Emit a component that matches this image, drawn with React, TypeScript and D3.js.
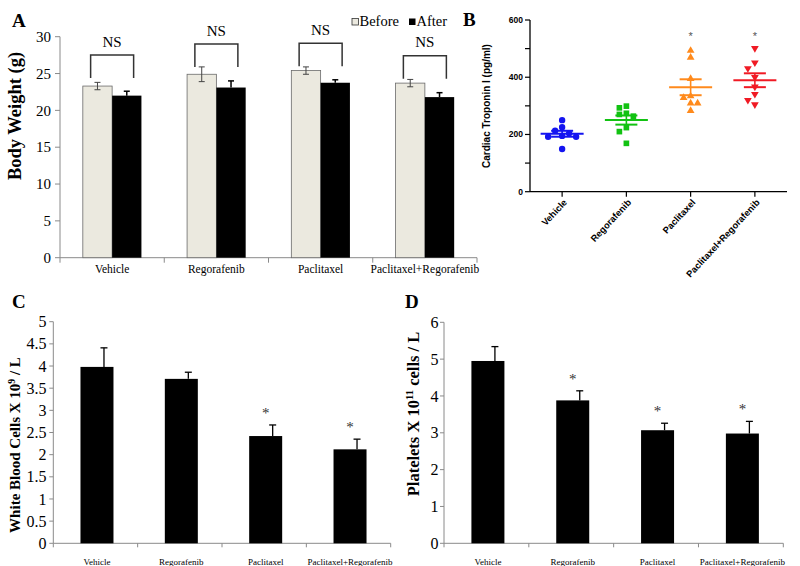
import React from "react";
import * as d3 from "d3";

const groups = ["Vehicle", "Regorafenib", "Paclitaxel", "Paclitaxel+Regorafenib"];

// A: body weight (g)
const weightBefore = [23.3, 24.9, 25.4, 23.7];
const weightBeforeErr = [0.5, 1.0, 0.5, 0.5];
const weightAfter = [22.0, 23.1, 23.75, 21.8];
const weightAfterErr = [0.6, 0.9, 0.4, 0.6];
const nsLevel = [27.5, 29.0, 29.1, 27.4];

// B: cardiac troponin I (pg/ml), individual animals
const vehicleTnI = [250, 225, 213, 204, 195, 192, 192, 149];
const regorafenibTnI = [299, 293, 274, 270, 264, 224, 210, 169];
const paclitaxelTnI = [493, 469, 395, 334, 328, 309, 309, 283];
const comboTnI = [501, 451, 431, 400, 367, 341, 320, 305];
const tnISignificant = [false, false, true, true];
const tnIStarLevel = 553;

// C: white blood cells
const wbc = [3.98, 3.71, 2.42, 2.12];
const wbcErr = [0.43, 0.15, 0.25, 0.23];
const wbcSignificant = [false, false, true, true];

// D: platelets
const platelets = [4.95, 3.88, 3.07, 2.98];
const plateletsErr = [0.39, 0.26, 0.19, 0.33];
const plateletsSignificant = [false, true, true, true];

const serif = "'Liberation Serif', 'Times New Roman', serif";
const sans = "'Liberation Sans', Arial, sans-serif";
const axisGrey = "#8a8a8a";

const tnIGroups = [vehicleTnI, regorafenibTnI, paclitaxelTnI, comboTnI];
const tnIColors = ["#1414f0", "#12c212", "#ff8a1c", "#f01a24"];
const tnISymbols = [d3.symbolCircle, d3.symbolSquare, d3.symbolTriangle, d3.symbolTriangle];
const tnISymbolSize = [32, 32, 26, 26];

// simple beeswarm: push colliding points sideways
function swarm(values: number[], y: (v: number) => number, dx: number, minDist: number) {
  const placed: { x: number; y: number }[] = [];
  const out: number[] = [];
  values.forEach((v) => {
    const py = y(v);
    for (let k = 0; k < 20; k++) {
      const step = Math.ceil(k / 2) * (k % 2 === 1 ? -1 : 1);
      const px = step * dx;
      if (placed.every((p) => Math.hypot(p.x - px, p.y - py) >= minDist)) {
        placed.push({ x: px, y: py });
        out.push(px);
        break;
      }
    }
  });
  return out;
}

function PanelA() {
  const x = d3.scaleBand().domain(groups).range([60, 477]);
  const y = d3.scaleLinear().domain([0, 30]).range([257.7, 36.7]);
  const barW = 29.3;
  const edges = [...groups.map((g) => x(g)!), 477];
  return (
    <g>
      <text x={12} y={26.7} fontFamily={serif} fontWeight="bold" fontSize={19}>A</text>
      <line x1={60} x2={60} y1={y(0)} y2={y(30)} stroke={axisGrey} />
      <line x1={60} x2={477} y1={y(0)} y2={y(0)} stroke={axisGrey} />
      {y.ticks(6).map((t) => (
        <g key={t}>
          <line x1={55} x2={60} y1={y(t)} y2={y(t)} stroke={axisGrey} />
          <text x={51} y={y(t)} dy="0.35em" textAnchor="end" fontFamily={serif} fontSize={15}>{t}</text>
        </g>
      ))}
      {edges.map((e, i) => (
        <line key={i} x1={e} x2={e} y1={y(0)} y2={y(0) + 5} stroke={axisGrey} />
      ))}
      <text transform={`translate(21,116) rotate(-90)`} textAnchor="middle" fontFamily={serif} fontWeight="bold" fontSize={18.5}>
        Body Weight (g)
      </text>
      {groups.map((g, i) => {
        const c = x(g)! + x.bandwidth() / 2;
        const bx = c - barW / 2;
        const ax = c + barW / 2;
        const top = y(nsLevel[i]);
        return (
          <g key={g}>
            <rect x={c - barW} y={y(weightBefore[i])} width={barW} height={y(0) - y(weightBefore[i])} fill="#ebe9df" stroke="#6a6a6a" strokeWidth={0.8} />
            <rect x={c} y={y(weightAfter[i])} width={barW} height={y(0) - y(weightAfter[i])} fill="#000" />
            <line x1={bx} x2={bx} y1={y(weightBefore[i] - weightBeforeErr[i])} y2={y(weightBefore[i] + weightBeforeErr[i])} stroke="#444" />
            <line x1={bx - 3} x2={bx + 3} y1={y(weightBefore[i] - weightBeforeErr[i])} y2={y(weightBefore[i] - weightBeforeErr[i])} stroke="#444" />
            <line x1={bx - 3} x2={bx + 3} y1={y(weightBefore[i] + weightBeforeErr[i])} y2={y(weightBefore[i] + weightBeforeErr[i])} stroke="#444" />
            <line x1={ax} x2={ax} y1={y(weightAfter[i])} y2={y(weightAfter[i] + weightAfterErr[i])} stroke="#000" strokeWidth={1.5} />
            <line x1={ax - 3} x2={ax + 3} y1={y(weightAfter[i] + weightAfterErr[i])} y2={y(weightAfter[i] + weightAfterErr[i])} stroke="#000" strokeWidth={1.5} />
            <path d={`M${c - 21.5},${top + 23}V${top}H${c + 21.5}V${top + 23}`} fill="none" stroke="#333" strokeWidth={1.5} />
            <text x={c} y={top - 8.5} textAnchor="middle" fontFamily={serif} fontSize={15}>NS</text>
            <text x={c} y={273} textAnchor="middle" fontFamily={serif} fontSize={11.5}>{g}</text>
          </g>
        );
      })}
      <rect x={352} y={18.5} width={6.5} height={6.5} fill="#ebe9df" stroke="#333" strokeWidth={0.8} />
      <text x={359.5} y={25.5} fontFamily={serif} fontSize={14.5}>Before</text>
      <rect x={409} y={18.5} width={6.5} height={6.5} fill="#000" />
      <text x={416.5} y={25.5} fontFamily={serif} fontSize={14.5}>After</text>
    </g>
  );
}

function PanelB() {
  const x = d3.scalePoint().domain(groups).range([530, 787]).padding(0.5);
  const y = d3.scaleLinear().domain([0, 600]).range([191.7, 20]);
  return (
    <g>
      <text x={463} y={26} fontFamily={serif} fontWeight="bold" fontSize={19}>B</text>
      <line x1={530} x2={530} y1={y(0)} y2={y(600)} stroke="#000" strokeWidth={1.3} />
      <line x1={530} x2={787} y1={y(0)} y2={y(0)} stroke="#000" strokeWidth={1.3} />
      {d3.range(0, 601, 100).map((t) => (
        <g key={t}>
          <line x1={525} x2={530} y1={y(t)} y2={y(t)} stroke="#000" strokeWidth={1.2} />
          {t % 200 === 0 && (
            <text x={523} y={y(t)} dy="0.35em" textAnchor="end" fontFamily={sans} fontWeight="bold" fontSize={8.5}>{t}</text>
          )}
        </g>
      ))}
      <text transform={`translate(490,106) rotate(-90)`} textAnchor="middle" fontFamily={sans} fontWeight="bold" fontSize={10}>
        Cardiac Troponin I (pg/ml)
      </text>
      {groups.map((g, i) => {
        const c = x(g)!;
        const vals = tnIGroups[i];
        const m = d3.mean(vals)!;
        const sem = d3.deviation(vals)! / Math.sqrt(vals.length);
        const offs = swarm(vals, y, 7, 6.5);
        const sym = d3.symbol(tnISymbols[i], tnISymbolSize[i])();
        const col = tnIColors[i];
        return (
          <g key={g}>
            <line x1={c} x2={c} y1={y(0)} y2={y(0) + 5} stroke="#000" strokeWidth={1.2} />
            {vals.map((v, j) => (
              <path key={j} d={sym!} fill={col} transform={`translate(${c + offs[j]},${y(v)})${i === 3 ? " rotate(180)" : ""}`} />
            ))}
            <line x1={c - 21.5} x2={c + 21.5} y1={y(m)} y2={y(m)} stroke={col} strokeWidth={2} />
            <line x1={c - 11} x2={c + 11} y1={y(m + sem)} y2={y(m + sem)} stroke={col} strokeWidth={2} />
            <line x1={c - 11} x2={c + 11} y1={y(m - sem)} y2={y(m - sem)} stroke={col} strokeWidth={2} />
            <line x1={c} x2={c} y1={y(m + sem)} y2={y(m - sem)} stroke={col} strokeWidth={1.6} />
            {tnISignificant[i] && (
              <text x={c} y={y(tnIStarLevel) + 6.5} textAnchor="middle" fontFamily={sans} fontSize={11} fill="#555">*</text>
            )}
            <text transform={`translate(${c + 3},${y(0) + 9}) rotate(-47)`} textAnchor="end" dy="0.35em" fontFamily={sans} fontWeight="bold" fontSize={9.3}>
              {g}
            </text>
          </g>
        );
      })}
    </g>
  );
}

function BarPanel(props: {
  letter: string;
  values: number[];
  errs: number[];
  sig: boolean[];
  x0: number;
  x1: number;
  yTop: number;
  yMax: number;
  labelX: number;
  title: React.ReactNode;
  titleX: number;
  titleY: number;
  titleSize: number;
  letterX: number;
}) {
  const { values, errs, sig, x0, x1, yTop, yMax } = props;
  const x = d3.scaleBand().domain(groups).range([x0, x1]);
  const y = d3.scaleLinear().domain([0, yMax]).range([543.3, yTop]);
  const barW = 33;
  const edges = [...groups.map((g) => x(g)!), x1];
  return (
    <g>
      <text x={props.letterX} y={308} fontFamily={serif} fontWeight="bold" fontSize={19}>{props.letter}</text>
      <line x1={x0} x2={x0} y1={y(0)} y2={y(yMax)} stroke={axisGrey} />
      <line x1={x0} x2={x1} y1={y(0)} y2={y(0)} stroke={axisGrey} />
      {y.ticks(yMax === 5 ? 10 : 6).map((t) => (
        <g key={t}>
          <line x1={x0 - 4} x2={x0} y1={y(t)} y2={y(t)} stroke={axisGrey} />
          <text x={props.labelX} y={y(t)} dy="0.35em" textAnchor="end" fontFamily={serif} fontSize={16}>{t}</text>
        </g>
      ))}
      {edges.map((e, i) => (
        <line key={i} x1={e} x2={e} y1={y(0)} y2={y(0) + 4} stroke={axisGrey} />
      ))}
      <text transform={`translate(${props.titleX},${props.titleY}) rotate(-90)`} textAnchor="middle" fontFamily={serif} fontWeight="bold" fontSize={props.titleSize}>
        {props.title}
      </text>
      {groups.map((g, i) => {
        const c = x(g)! + x.bandwidth() / 2 + 1.5;
        const ex = c + 7;
        const errTop = y(values[i] + errs[i]);
        return (
          <g key={g}>
            <rect x={c - barW / 2} y={y(values[i])} width={barW} height={y(0) - y(values[i])} fill="#000" />
            <line x1={ex} x2={ex} y1={y(values[i])} y2={errTop} stroke="#000" strokeWidth={1.3} />
            <line x1={ex - 3.5} x2={ex + 3.5} y1={errTop} y2={errTop} stroke="#000" strokeWidth={1.3} />
            {sig[i] && (
              <text x={c} y={errTop - 7} textAnchor="middle" fontFamily={serif} fontSize={15} fill="#333">*</text>
            )}
            <text x={c} y={564.5} textAnchor="middle" fontFamily={serif} fontSize={9}>{g}</text>
          </g>
        );
      })}
    </g>
  );
}

export default function App() {
  return (
    <svg width={800} height={566} style={{ position: "absolute", left: 0, top: 0, background: "#fff" }}>
      <rect width={800} height={566} fill="#fff" />
      <PanelA />
      <PanelB />
      <BarPanel
        letter="C"
        values={wbc}
        errs={wbcErr}
        sig={wbcSignificant}
        x0={53.3}
        x1={390.7}
        yTop={321.7}
        yMax={5}
        labelX={46.5}
        letterX={12}
        title={<>White Blood Cells X 10<tspan baselineShift="super" fontSize="65%">9</tspan> / L</>}
        titleX={20}
        titleY={445}
        titleSize={15}
      />
      <BarPanel
        letter="D"
        values={platelets}
        errs={plateletsErr}
        sig={plateletsSignificant}
        x0={444}
        x1={783.3}
        yTop={322.3}
        yMax={6}
        labelX={438.5}
        letterX={405}
        title={<>Platelets X 10<tspan baselineShift="super" fontSize="65%">11</tspan> cells / L</>}
        titleX={419}
        titleY={414}
        titleSize={16.5}
      />
    </svg>
  );
}
